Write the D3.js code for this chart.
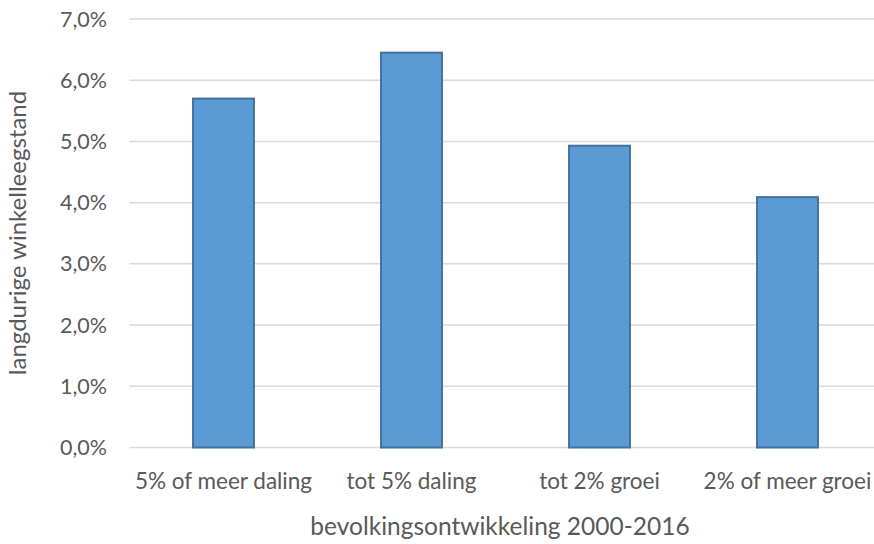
<!DOCTYPE html>
<html><head><meta charset="utf-8">
<script src="https://cdn.jsdelivr.net/npm/d3@7"></script>
<style>body{margin:0;background:#fff;} text{font-family:Lato,"Open Sans",sans-serif;fill:#595959;}</style>
</head><body>
<svg id="c" width="874" height="544"></svg>
<script>
const categories = ["5% of meer daling","tot 5% daling","tot 2% groei","2% of meer groei"];
const values = [0.057, 0.0645, 0.0493, 0.0409];
const yTicks = [0,0.01,0.02,0.03,0.04,0.05,0.06,0.07];
const xTitle = "bevolkingsontwikkeling 2000-2016";
const yTitle = "langdurige winkelleegstand";

(function(){
const svg = d3.select("#c");
const pL = 129.5, pR = 881.5, pT = 19, pB = 447.5;
const x = d3.scaleBand().domain(categories).range([pL,pR]).paddingInner(0.676).paddingOuter(0.338);
const y = d3.scaleLinear().domain([0,0.07]).range([pB,pT]);
const fmt = v => d3.format(".1f")(v*100).replace(".",",") + "%";

svg.append("g").selectAll("line").data(yTicks).join("line")
  .attr("x1",pL).attr("x2",874).attr("y1",d=>y(d)).attr("y2",d=>y(d))
  .attr("stroke","#d9d9d9").attr("stroke-width",1.5);

svg.append("g").selectAll("text").data(yTicks).join("text")
  .attr("x",107).attr("y",d=>y(d)).attr("dy","0.35em").attr("text-anchor","end")
  .attr("font-size",21.5).text(fmt);

svg.append("g").selectAll("rect").data(values).join("rect")
  .attr("x",(d,i)=>x(categories[i])).attr("width",x.bandwidth())
  .attr("y",d=>y(d)).attr("height",d=>pB-y(d))
  .attr("fill","#5b9bd5").attr("stroke","#41719c").attr("stroke-width",2);

svg.append("g").selectAll("text").data(categories).join("text")
  .attr("x",d=>x(d)+x.bandwidth()/2).attr("y",489).attr("text-anchor","middle")
  .attr("font-size",22.5).text(d=>d);

svg.append("text").attr("x",500).attr("y",535).attr("text-anchor","middle")
  .attr("font-size",24.5).text(xTitle);

svg.append("text").attr("transform","translate(26,233) rotate(-90)").attr("text-anchor","middle")
  .attr("font-size",24).text(yTitle);
})();
</script>
</body></html>
